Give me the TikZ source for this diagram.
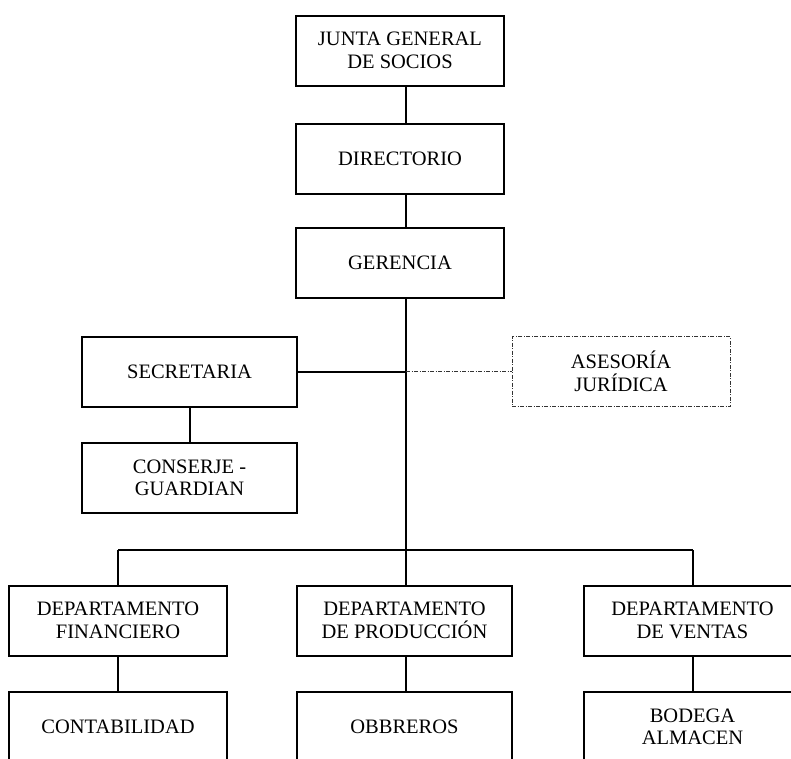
\documentclass[tikz,border=0pt]{standalone}
\usepackage{fontspec}
\setmainfont{Liberation Serif}
\begin{document}
\begin{tikzpicture}[x=1pt,y=-1pt,
  box/.style={draw, line width=2pt, align=center, inner sep=0pt,
    minimum height=70pt, font=\fontsize{20.5}{22.5}\selectfont},
  link/.style={line width=2pt},
  dotlink/.style={line width=1pt, dash pattern=on 4pt off 1.5pt on 1pt off 1.5pt, black!80},
  dotbox/.style={box, line width=1pt, dash pattern=on 4pt off 1.5pt on 1pt off 1.5pt, draw=black!80}]
\useasboundingbox (0,0) rectangle (791,758);
\clip (0,0) rectangle (791,758);
\fill[white] (0,0) rectangle (791,758);
\coordinate (tx) at (406,0);
\coordinate (bar) at (0,550);
% top chain
\node[box, minimum width=208pt] (junta) at (400,50.5) {JUNTA GENERAL\\DE SOCIOS};
\node[box, minimum width=208pt] (dir) at (400,158.5) {DIRECTORIO};
\node[box, minimum width=208pt] (ger) at (400,263) {GERENCIA};
% staff
\node[box, minimum width=215pt] (sec) at (189.5,371.5) {SECRETARIA};
\node[dotbox, minimum width=218pt] (ases) at (621,371.5) {ASESORÍA\\JURÍDICA};
\node[box, minimum width=215pt] (cons) at (189.5,478) {CONSERJE -\\GUARDIAN};
% departments
\node[box, minimum width=218pt] (fin) at (118,620.5) {DEPARTAMENTO\\FINANCIERO};
\node[box, minimum width=215pt] (prod) at (404.5,620.5) {DEPARTAMENTO\\DE PRODUCCIÓN};
\node[box, minimum width=217pt] (ven) at (692.5,620.5) {DEPARTAMENTO\\DE VENTAS};
% bottom
\node[box, minimum width=218pt] (cont) at (118,727) {CONTABILIDAD};
\node[box, minimum width=215pt] (obr) at (404.5,727) {OBBREROS};
\node[box, minimum width=217pt] (bod) at (692.5,727) {BODEGA\\ALMACEN};
% connectors
\draw[link] (junta.south -| tx) -- (dir.north -| tx);
\draw[link] (dir.south -| tx) -- (ger.north -| tx);
\draw[link] (ger.south -| tx) -- (bar -| tx);
\draw[link] (sec.east) -- (sec.east -| tx);
\draw[dotlink] (sec.east -| tx) -- (ases.west);
\draw[link] (sec.south) -- (cons.north);
\draw[link] (bar -| fin.north) -- (bar -| ven.north);
\draw[link] (bar -| fin.north) -- (fin.north);
\draw[link] (bar -| tx) -- (prod.north -| tx);
\draw[link] (bar -| ven.north) -- (ven.north);
\draw[link] (fin.south) -- (cont.north);
\draw[link] (prod.south -| tx) -- (obr.north -| tx);
\draw[link] (ven.south) -- (bod.north);
\end{tikzpicture}
\end{document}
